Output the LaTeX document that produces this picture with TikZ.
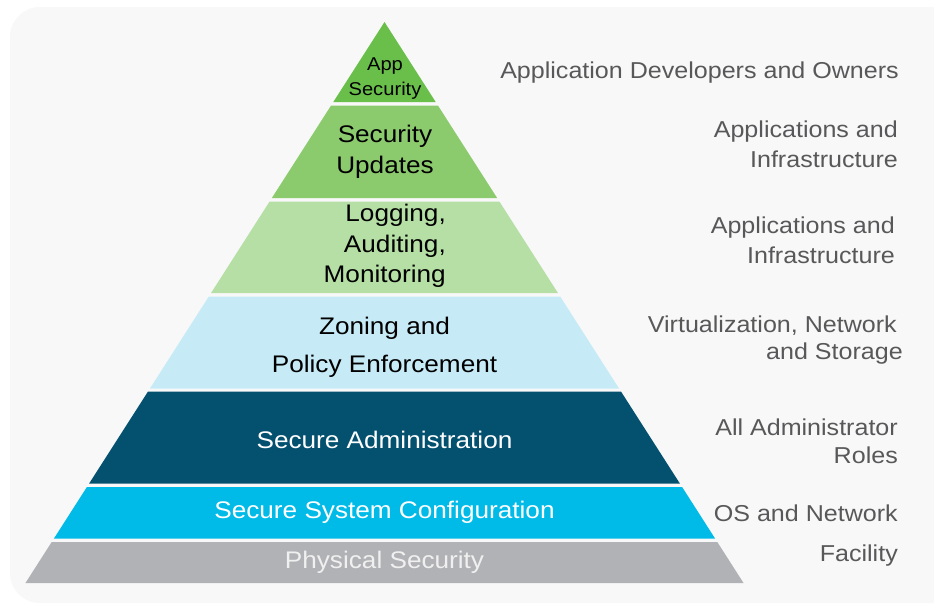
\documentclass[tikz,border=0pt]{standalone}
\usepackage{fontspec}
\setmainfont[FakeStretch=1.09]{Liberation Sans}
\definecolor{bgc}{HTML}{F8F8F8}
\definecolor{appc}{HTML}{6ABF4B}
\definecolor{updc}{HTML}{8CCA6E}
\definecolor{logc}{HTML}{B5DFA4}
\definecolor{zonc}{HTML}{C6EBF7}
\definecolor{admc}{HTML}{04506F}
\definecolor{sscc}{HTML}{00BBE8}
\definecolor{physc}{HTML}{B1B2B5}
\definecolor{lblc}{HTML}{58585A}
\newcommand\pyrlayer[3]{%
  \fill[#3] ({384.5-0.64*(#1-22)},#1) -- ({384.5+0.64*(#1-22)},#1) --
    ({384.5+0.64*(#2-22)},#2) -- ({384.5-0.64*(#2-22)},#2) -- cycle;}
\begin{document}
\begin{tikzpicture}[x=1pt,y=-1pt,
  big/.style={inner sep=0pt, font=\fontsize{24}{31}\selectfont, align=center},
  side/.style={inner sep=0pt, anchor=east, text=lblc, font=\fontsize{23}{28}\selectfont}]
\useasboundingbox (0,0) rectangle (934,605);
\fill[white] (0,0) rectangle (934,605);
\begin{scope}
  \clip (0,0) rectangle (934,605);
  \fill[bgc, rounded corners=30pt] (10,7) rectangle (962,603);
\end{scope}
\pyrlayer{22}{102}{appc}
\pyrlayer{105.5}{198}{updc}
\pyrlayer{201.5}{293}{logc}
\pyrlayer{296.5}{388.5}{zonc}
\pyrlayer{391.5}{483.5}{admc}
\pyrlayer{487}{538.5}{sscc}
\pyrlayer{542}{583}{physc}
% pyramid texts
\node[inner sep=0pt, align=center, font=\fontsize{18.5}{25}\selectfont] (app) at (385,79) {App\\Security};
\node[big] (upd) at (385,152) {Security\\Updates};
\node[big, align=right, anchor=east, font=\fontsize{24}{30.5}\selectfont] (log) at (446,246) {Logging,\\Auditing,\\Monitoring};
\node[big, font=\fontsize{24}{38}\selectfont] (zon) at (384.5,347.5) {Zoning and\\Policy Enforcement};
\node[big, text=white] (adm) at (384.5,440) {Secure Administration};
\node[big, text=white] (ssc) at (384.5,512.5) {Secure System Configuration};
\node[big, text=white!94!black] (phys) at (384.5,562.5) {Physical Security};
% side labels
\node[side] (l1) at (899,72.5) {Application Developers and Owners};
\node[side] (l2a) at (898,131.5) {Applications and};
\node[side] (l2b) at (898,159.5) {Infrastructure};
\node[side] (l3a) at (895,227.5) {Applications and};
\node[side] (l3b) at (895,255.5) {Infrastructure};
\node[side] (l4a) at (897,325.5) {Virtualization, Network};
\node[side] (l4b) at (903,353.5) {and Storage};
\node[side] (l5a) at (898,427.5) {All Administrator};
\node[side] (l5b) at (898,455.5) {Roles};
\node[side] (l6) at (898,513.5) {OS and Network};
\node[side] (l7) at (898,555.5) {Facility};
\end{tikzpicture}
\end{document}
